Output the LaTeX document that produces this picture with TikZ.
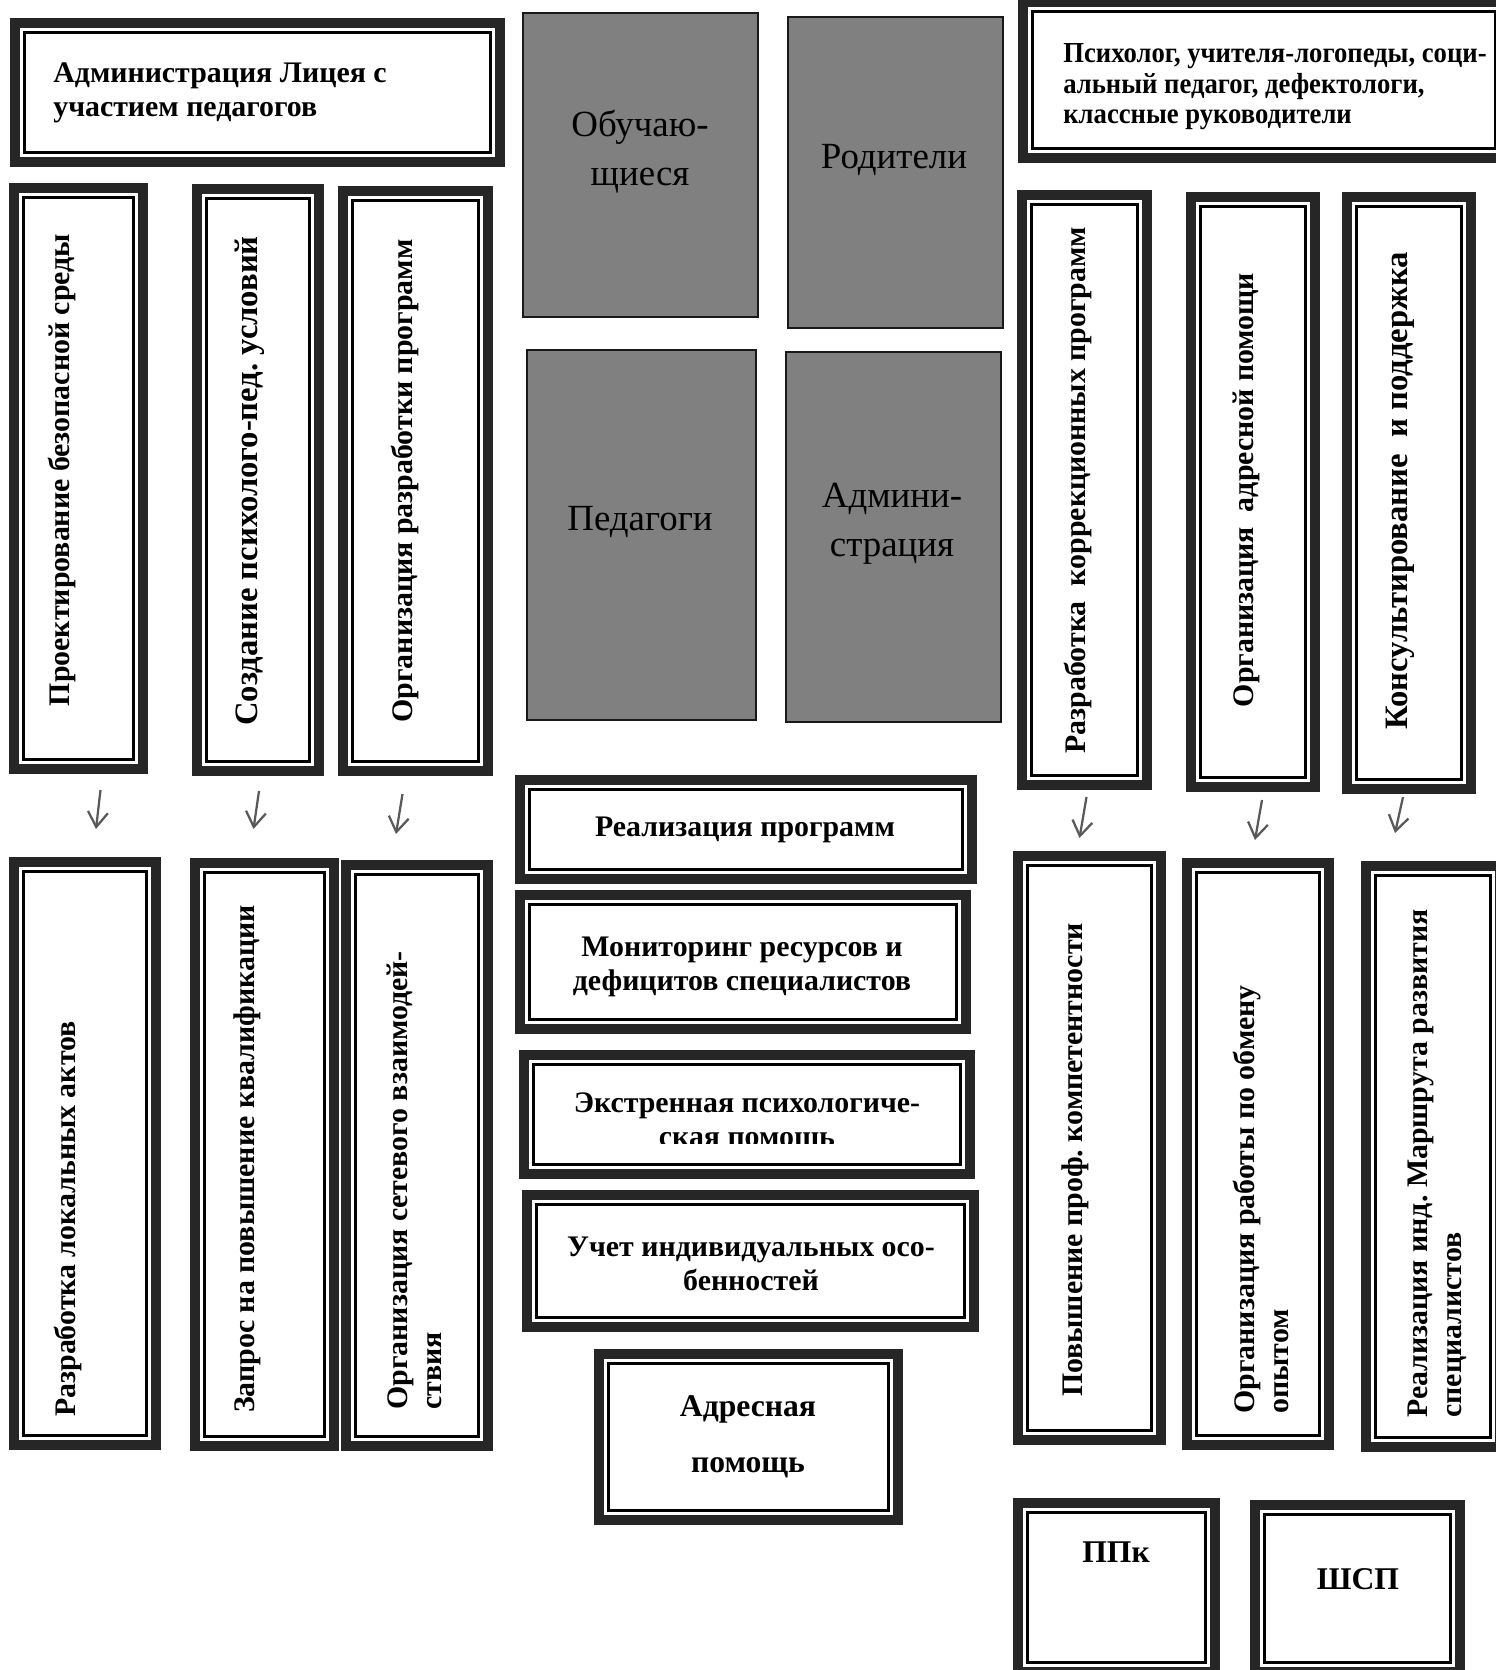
\documentclass[tikz,border=0pt]{standalone}
\usepackage{fontspec}
\setmainfont{Liberation Serif}
\newfontfamily\narrowfont{Liberation Serif}[FakeStretch=0.92]
\usetikzlibrary{fit,arrows.meta}
\frenchspacing

\tikzset{
  frame/.style={draw=black!85, line width=0.2cm, fill=white, inner sep=0pt,
    path picture={\draw[black, line width=0.06cm]
      ([shift={(0.185cm,0.185cm)}]path picture bounding box.south west) rectangle
      ([shift={(-0.185cm,-0.185cm)}]path picture bounding box.north east);}},
  greybox/.style={draw=black!90, line width=0.05cm, fill=black!50, inner sep=0pt},
  txt/.style={font=\bfseries\fontsize{17}{19.5}\selectfont, align=left, inner sep=0pt},
  bigtxt/.style={font=\bfseries\fontsize{18.6}{21}\selectfont},
  ctxt/.style={txt, align=center},
  vtxt/.style={txt, rotate=90},
  gtxt/.style={font=\fontsize{21}{28}\selectfont, align=center, inner sep=0pt},
  arr/.style={draw=black!65, line width=0.045cm, -{Straight Barb[length=0.3cm,width=0.4cm]}}
}

\begin{document}
\begin{tikzpicture}[x=0.02cm, y=-0.02cm]
\useasboundingbox (0,0) rectangle (1495,1670);
%%Heads
\node[frame, fit={(15,23) (500,162)}] (adm) {};
\node[txt, anchor=west] (adm-t) at (53,93) {Администрация Лицея с\\участием педагогов};
\node[frame, fit={(1023,2) (1505,158)}] (psy) {};
\node[txt, anchor=west, font=\narrowfont\bfseries\fontsize{16.5}{17.3}\selectfont] (psy-t) at (1063,87) {Психолог, учителя-логопеды, соци-\\альный педагог, дефектологи,\\классные руководители};

%%Participants
\node[greybox, fit={(523,13) (758,317)}] (obu) {};
\node[greybox, fit={(788,17) (1003,328)}] (rod) {};
\node[greybox, fit={(527,350) (756,720)}] (ped) {};
\node[greybox, fit={(786,352) (1001,722)}] (admin) {};
\node[gtxt] (obu-t) at (640,152) {Обучаю-\\щиеся};
\node[gtxt] (rod-t) at (894,160) {Родители};
\node[gtxt] (ped-t) at (640,522) {Педагоги};
\node[gtxt] (admin-t) at (892,524) {Админи-\\страция};

%%Left columns
\node[frame, fit={(14,188) (143,769)}] (bez) {};
\node[frame, fit={(197,189) (319,771)}] (usl) {};
\node[frame, fit={(343,191) (488,771)}] (prog) {};
\node[frame, fit={(14,862) (156,1445)}] (akty) {};
\node[frame, fit={(195,863) (334,1446)}] (kval) {};
\node[frame, fit={(346,865) (488,1446)}] (set) {};
\node[vtxt] (bez-t) at (62,470) {Проектирование безопасной среды};
\node[vtxt, bigtxt] (usl-t) at (250,481) {Создание психолого-пед. условий};
\node[vtxt] (prog-t) at (405,481) {Организация разработки программ};
\node[vtxt] (akty-t) at (68,1219) {Разработка локальных актов};
\node[vtxt] (kval-t) at (247,1159) {Запрос на повышение квалификации};
\node[vtxt, anchor=west] (set-t) at (414,1410) {Организация сетевого взаимодей-\\ствия};

%%Middle column
\node[frame, fit={(520,780) (972,879)}] (real) {};
\node[frame, fit={(520,895) (966,1029)}] (monit) {};
\node[frame, fit={(524,1055) (970,1174)}] (ekstr) {};
\node[frame, fit={(527,1195) (974,1327)}] (uchet) {};
\node[frame, fit={(599,1354) (898,1520)}] (adr) {};
\node[ctxt] (real-t) at (745,830) {Реализация программ};
\node[ctxt] (monit-t) at (742,967) {Мониторинг ресурсов и\\дефицитов специалистов};
\begin{scope}
\clip (524,1055) rectangle (970,1143);
\node[ctxt] (ekstr-t) at (747,1122) {Экстренная психологиче-\\ская помощь};
\end{scope}
\node[ctxt] (uchet-t) at (751,1264) {Учет индивидуальных осо-\\бенностей};
\node[ctxt, font=\bfseries\fontsize{18}{32}\selectfont] (adr-t) at (748,1437) {Адресная\\помощь};

%%Right columns
\node[frame, fit={(1022,195) (1147,785)}] (korr) {};
\node[frame, fit={(1191,197) (1315,787)}] (pom) {};
\node[frame, fit={(1347,197) (1471,789)}] (kons) {};
\node[frame, fit={(1018,856) (1161,1440)}] (komp) {};
\node[frame, fit={(1187,863) (1329,1445)}] (obmen) {};
\node[frame, fit={(1366,866) (1500,1447)}] (marsh) {};
\node[vtxt] (korr-t) at (1078,490) {Разработка\ \ коррекционных программ};
\node[vtxt] (pom-t) at (1246,490) {Организация\ \ адресной помощи};
\node[vtxt, bigtxt] (kons-t) at (1400,491) {Консультирование\ \ и поддержка};
\node[vtxt] (komp-t) at (1075,1160) {Повышение проф. компетентности};
\node[vtxt, anchor=west] (obmen-t) at (1261,1414) {Организация работы по обмену\\опытом};
\node[vtxt, anchor=west] (marsh-t) at (1437,1418) {Реализация инд. Маршрута развития\\специалистов};

%%Services
\node[frame, fit={(1018,1503) (1215,1672)}] (ppk) {};
\node[frame, fit={(1255,1505) (1460,1672)}] (shsp) {};
\node[ctxt, font=\bfseries\fontsize{18}{20}\selectfont] (ppk-t) at (1116,1552) {ППк};
\node[ctxt, font=\bfseries\fontsize{18}{20}\selectfont] (shsp-t) at (1358,1579) {ШСП};

%%Arrows
\draw[arr] ([shift={(22,16)}]bez.south) -- ([shift={(11,-28)}]akty.north);
\draw[arr] ([shift={(1,15)}]usl.south) -- ([shift={(-11,-29)}]kval.north);
\draw[arr] ([shift={(-13,18)}]prog.south) -- ([shift={(-21,-26)}]set.north);
\draw[arr] ([shift={(2,7)}]korr.south) -- ([shift={(-10,-13)}]komp.north);
\draw[arr] ([shift={(9,8)}]pom.south) -- ([shift={(-3,-18)}]obmen.north);
\draw[arr] ([shift={(-6,3)}]kons.south) -- ([shift={(-38,-28)}]marsh.north);
\end{tikzpicture}
\end{document}
